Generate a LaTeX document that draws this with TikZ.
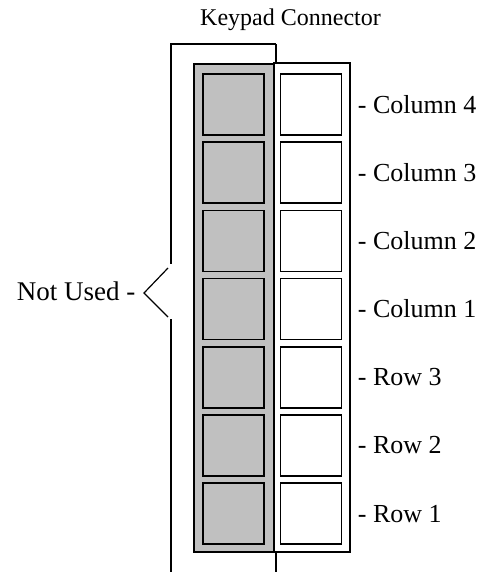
\documentclass[tikz,border=0pt]{standalone}
\usepackage{fontspec}
\setmainfont{Liberation Serif}
\usetikzlibrary{positioning}

\begin{document}
\begin{tikzpicture}[x=0.5pt, y=-0.5pt,
semithick,
font=\fontsize{13}{16}\selectfont,
housing/.style={draw, line width=0.6pt, rectangle, inner sep=0pt},
pin/.style={draw, line width=0.8pt, rectangle, inner sep=0pt, minimum width=30.5pt, minimum height=30.5pt},
pinlabel/.style={anchor=west, inner sep=0pt}]

\useasboundingbox (0,0) rectangle (481,572);

% connector body
\draw[housing, fill={rgb,255:red,192;green,192;blue,192}] (194,64) rectangle (274,552);
\draw[housing, fill=white] (274,63) rectangle (350,552);

% pins, top to bottom
\foreach \k/\lab in {0/Column 4, 1/Column 3, 2/Column 2, 3/Column 1, 4/Row 3, 5/Row 2, 6/Row 1} {
  \node[pin, fill={rgb,255:red,192;green,192;blue,192}] (g\k) at (233.5, 104.5+68.2*\k) {};
  \node[pin, fill=white] (w\k) at (311, 104.5+68.2*\k) {};
  \node[pinlabel, right=7.5pt of w\k] (l\k) {- \lab};
}

% title bracket
\node[font=\fontsize{12}{14}\selectfont] (title) at (290.5,20) {Keypad Connector};
\coordinate (tl) at (170,44);
\coordinate (tr) at (276,44);
\draw[line width=1.2pt] (tl) -- (tr);
\draw (171,44) -- (171,264);
\draw (276,44) -- (276,63);
\draw (171,319) -- (171,572);
\draw (276,552) -- (276,572);

% unused brace
\coordinate (tip) at (144,293);
\draw (168,268) -- (tip) -- (168,317);
\node[anchor=east, inner sep=0pt, font=\fontsize{13.5}{16}\selectfont] (unused) at (136,291) {Not Used -};

\end{tikzpicture}
\end{document}
